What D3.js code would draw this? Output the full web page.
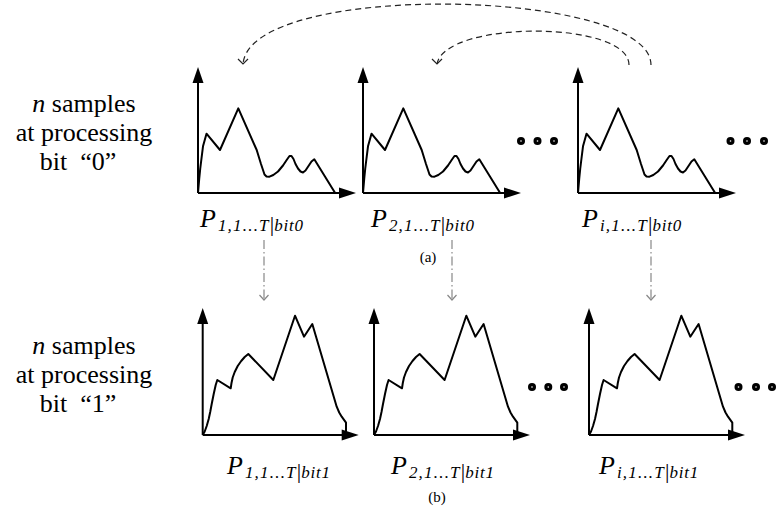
<!DOCTYPE html>
<html><head><meta charset="utf-8">
<script src="https://cdn.jsdelivr.net/npm/d3@7/dist/d3.min.js"></script>
<style>html,body{margin:0;padding:0;background:#fff}svg{display:block}
svg text{font-family:"Liberation Serif","Times New Roman","DejaVu Serif",serif;}</style>
</head><body>
<script>
// ---- data ----
const chartIndices = ["1", "2", "i"];
const bits = ["0", "1"];
const panelTags = ["(a)", "(b)"];
const rowText = [["samples", "at processing", "bit  \u201C0\u201D"], ["samples", "at processing", "bit  \u201C1\u201D"]];
// sample curves (t, p) for bit 0 and bit 1
const bit0Curve = [[0,0],[1.2,14],[2.2,24],[3.3,33],[5,46.7],[8.5,59.3],[22,43],[40.3,84.7],[58.7,43],[63,29],[66.5,18.5],[68.5,16.5],[71.5,16.3],[75.3,18],[80,21.5],[85,27.5],[89,33.5],[91.5,37],[93.5,37],[95.5,34],[97.5,29],[100,24.5],[102.5,21.5],[105,20.5],[107.5,22.5],[110.5,27],[113.5,31.5],[116.3,33.7],[137,0.3]];
const bit1Curve = [[0,0],[2,3.5],[4,9],[6,16],[7.5,23],[9,31],[11,41],[13,50],[14.6,55],[28,46.7],[28.8,52],[30,57.5],[32,63],[35,69],[38.5,74],[42,78],[45.6,81],[70.6,55],[92.3,119.3],[101.3,98.3],[109.6,111],[134,28.3],[136.5,22.5],[139,18.3],[143.3,12.3],[143.3,0]];
const curves = [bit0Curve, bit1Curve];

// ---- layout ----
const W = 779, H = 517;
const rows = [
  {origins: [198, 363, 578], y0: 193, yLen: 126, xLen: 158, labelX: [200, 371, 582], labelY: 227, tagX: 428, tagY: 262,
   textCx: 84, textY: [112, 141, 170], dotsX: [[521, 537.5, 554], [730.5, 747, 764]], dotsY: 141},
  {origins: [202.7, 374, 589], y0: 435, yLen: 127, xLen: 156, labelX: [227, 391, 599], labelY: 474, tagX: 437, tagY: 502,
   textCx: 84, textY: [354, 383, 412], dotsX: [[532, 548.3, 564], [738.5, 756, 772]], dotsY: 387}
];

const svg = d3.select("body").append("svg").attr("width", W).attr("height", H);

rows.forEach((r, ri) => {
  const x = d3.scaleLinear().domain([0, r.xLen]).range([0, r.xLen]);
  const y = d3.scaleLinear().domain([0, r.yLen]).range([0, -r.yLen]);
  const line = d3.line().x(d => x(d[0])).y(d => y(d[1])).curve(d3.curveLinear);
  r.origins.forEach((ox, ci) => {
    const g = svg.append("g").attr("transform", `translate(${ox},${r.y0})`);
    // axes
    g.append("line").attr("x1", 0).attr("y1", 0).attr("x2", 0).attr("y2", y(r.yLen) + 14)
      .attr("stroke", "#000").attr("stroke-width", 2);
    g.append("line").attr("x1", 0).attr("y1", 0).attr("x2", x(r.xLen) - 14).attr("y2", 0)
      .attr("stroke", "#000").attr("stroke-width", 2);
    g.append("path").attr("d", `M0,${y(r.yLen)}L5.5,${y(r.yLen)+16}L-5.5,${y(r.yLen)+16}Z`).attr("fill", "#000");
    g.append("path").attr("d", `M${x(r.xLen)},0L${x(r.xLen)-17},-5.5L${x(r.xLen)-17},5.5Z`).attr("fill", "#000");
    g.append("path").datum(curves[ri]).attr("d", line).attr("fill", "none")
      .attr("stroke", "#000").attr("stroke-width", 2).attr("stroke-linejoin", "round");

    // label P_{k,1...T|bitb}
    const t = svg.append("text").attr("x", r.labelX[ci]).attr("y", r.labelY).attr("fill", "#000");
    t.append("tspan").attr("font-size", 26).attr("font-style", "italic").text("P");
    t.append("tspan").attr("font-size", 17).attr("font-style", "italic").attr("dy", 4).attr("dx", 2)
      .attr("letter-spacing", 1.2).text(chartIndices[ci] + ",1...T");
    t.append("tspan").attr("font-size", 22).attr("font-style", "normal").text("|");
    t.append("tspan").attr("font-size", 17).attr("font-style", "italic").attr("letter-spacing", 0.8).text("bit" + bits[ri]);
  });

  // panel tag
  svg.append("text").attr("x", r.tagX).attr("y", r.tagY).attr("text-anchor", "middle")
    .attr("font-size", 15).text(panelTags[ri]);

  // row description text
  const lines = rowText[ri];
  const t0 = svg.append("text").attr("x", r.textCx).attr("y", r.textY[0]).attr("text-anchor", "middle")
    .attr("font-size", 26);
  t0.append("tspan").attr("font-style", "italic").text("n");
  t0.append("tspan").text(" " + lines[0]);
  svg.append("text").attr("x", r.textCx).attr("y", r.textY[1]).attr("text-anchor", "middle")
    .attr("font-size", 26).text(lines[1]);
  svg.append("text").attr("x", r.textCx - 6).attr("y", r.textY[2]).attr("text-anchor", "middle")
    .attr("font-size", 26).style("white-space", "pre").text(lines[2]);

  // ellipsis dots
  r.dotsX.flat().forEach(dx => {
    svg.append("circle").attr("cx", dx).attr("cy", r.dotsY).attr("r", 4).attr("fill", "#000");
    svg.append("circle").attr("cx", dx).attr("cy", r.dotsY).attr("r", 0.8).attr("fill", "#fff");
  });
});

// dash-dot vertical arrows from row a to row b
const vx = [264, 452, 651];
vx.forEach(xv => {
  svg.append("line").attr("x1", xv).attr("y1", 240).attr("x2", xv).attr("y2", 299)
    .attr("stroke", "#888").attr("stroke-width", 1.2).attr("stroke-dasharray", "9,3,1.5,3");
  svg.append("path").attr("d", `M${xv-4.5},${295}L${xv},${300}L${xv+4.5},${295}`)
    .attr("fill", "none").attr("stroke", "#888").attr("stroke-width", 1.2);
});

// dashed curved arrows (permutation of samples)
const arcs = [
  {d: "M651,65 C651,-12 250,-20 243,64", tip: [243, 64]},
  {d: "M629,65 C629,20 445,20 437,64", tip: [437, 64]}
];
arcs.forEach(a => {
  svg.append("path").attr("d", a.d).attr("fill", "none").attr("stroke", "#222")
    .attr("stroke-width", 1.2).attr("stroke-dasharray", "6,4");
  svg.append("path").attr("d", `M${a.tip[0]-5},${a.tip[1]-5}L${a.tip[0]},${a.tip[1]}L${a.tip[0]+5},${a.tip[1]-5}`)
    .attr("fill", "none").attr("stroke", "#222").attr("stroke-width", 1.2);
});
</script>
</body></html>
